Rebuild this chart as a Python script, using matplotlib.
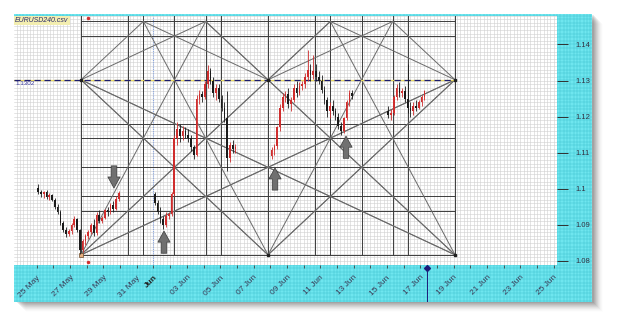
import matplotlib as mpl
mpl.use('Agg')
import matplotlib.pyplot as plt
import matplotlib.patches as mpatches
import numpy as np

mpl.rcParams['font.family'] = ['Liberation Sans', 'DejaVu Sans']
mpl.rcParams['font.size'] = 5.5

# ---------------------------------------------------------------------------- #
# data : EURUSD 4h bars, time in days after 1 Jun 2015

trade_days = [-7, -6, -5, -4, -3, 0, 1, 2, 3, 4, 7, 8, 9, 10, 11, 14, 15, 16]
bars_per_day = [6, 6, 6, 6, 6, 6, 6, 6, 6, 6, 6, 6, 6, 6, 6, 6, 6, 2]

bar_open = [1.1003, 1.0990, 1.0985, 1.0992, 1.0978, 1.0982,
            1.0970, 1.0950, 1.0935, 1.0905, 1.0885, 1.0875,
            1.0882, 1.0900, 1.0915, 1.0885, 1.0830, 1.0855,
            1.0868, 1.0880, 1.0900, 1.0878, 1.0928, 1.0912,
            1.0920, 1.0940, 1.0935, 1.0955, 1.0945, 1.0972,
            1.0985, 1.0960, 1.0935, 1.0915, 1.0900, 1.0925,
            1.0930, 1.0985, 1.1140, 1.1165, 1.1145, 1.1160,
            1.1150, 1.1140, 1.1115, 1.1095, 1.1250, 1.1262,
            1.1255, 1.1290, 1.1325, 1.1300, 1.1265, 1.1280,
            1.1250, 1.1225, 1.1195, 1.1085, 1.1120, 1.1110,
            1.1090, 1.1108, 1.1118, 1.1170, 1.1225, 1.1255,
            1.1262, 1.1235, 1.1245, 1.1280, 1.1265, 1.1285,
            1.1290, 1.1310, 1.1330, 1.1315, 1.1325, 1.1310,
            1.1300, 1.1275, 1.1245, 1.1215, 1.1230, 1.1215,
            1.1200, 1.1175, 1.1160, 1.1195, 1.1240, 1.1265,
            1.1215, 1.1205, 1.1210, 1.1255, 1.1280, 1.1265,
            1.1270, 1.1250, 1.1225, 1.1215, 1.1230, 1.1225,
            1.1240, 1.1255]
bar_high = [1.1012, 1.0998, 1.0995, 1.0996, 1.0988, 1.0986,
            1.0975, 1.0958, 1.0940, 1.0912, 1.0895, 1.0890,
            1.0905, 1.0925, 1.0920, 1.0890, 1.0860, 1.0875,
            1.0885, 1.0905, 1.0915, 1.0935, 1.0940, 1.0925,
            1.0945, 1.0950, 1.0960, 1.0965, 1.0980, 1.0995,
            1.0990, 1.0968, 1.0950, 1.0925, 1.0935, 1.0935,
            1.0990, 1.1150, 1.1185, 1.1180, 1.1175, 1.1170,
            1.1165, 1.1150, 1.1120, 1.1260, 1.1275, 1.1270,
            1.1300, 1.1343, 1.1335, 1.1310, 1.1290, 1.1290,
            1.1260, 1.1240, 1.1270, 1.1130, 1.1135, 1.1125,
            1.1115, 1.1125, 1.1175, 1.1235, 1.1265, 1.1270,
            1.1280, 1.1255, 1.1290, 1.1300, 1.1295, 1.1300,
            1.1320, 1.1385, 1.1345, 1.1370, 1.1345, 1.1325,
            1.1315, 1.1285, 1.1255, 1.1240, 1.1245, 1.1225,
            1.1210, 1.1185, 1.1200, 1.1245, 1.1275, 1.1275,
            1.1230, 1.1220, 1.1260, 1.1290, 1.1295, 1.1280,
            1.1285, 1.1345, 1.1240, 1.1240, 1.1245, 1.1245,
            1.1260, 1.1275]
bar_low = [1.0985, 1.0978, 1.0975, 1.0972, 1.0970, 1.0965,
           1.0945, 1.0930, 1.0900, 1.0880, 1.0866, 1.0868,
           1.0875, 1.0895, 1.0880, 1.0818, 1.0825, 1.0845,
           1.0860, 1.0875, 1.0870, 1.0872, 1.0905, 1.0905,
           1.0915, 1.0925, 1.0930, 1.0935, 1.0940, 1.0965,
           1.0955, 1.0930, 1.0905, 1.0888, 1.0895, 1.0915,
           1.0925, 1.0980, 1.1120, 1.1130, 1.1135, 1.1140,
           1.1130, 1.1105, 1.1082, 1.1090, 1.1235, 1.1240,
           1.1250, 1.1280, 1.1290, 1.1255, 1.1245, 1.1240,
           1.1215, 1.1185, 1.1050, 1.1075, 1.1100, 1.1100,
           1.1082, 1.1095, 1.1110, 1.1160, 1.1215, 1.1240,
           1.1225, 1.1215, 1.1240, 1.1255, 1.1260, 1.1275,
           1.1280, 1.1300, 1.1300, 1.1305, 1.1300, 1.1290,
           1.1265, 1.1235, 1.1200, 1.1195, 1.1205, 1.1190,
           1.1165, 1.1148, 1.1155, 1.1190, 1.1230, 1.1250,
           1.1195, 1.1190, 1.1205, 1.1245, 1.1255, 1.1255,
           1.1240, 1.1210, 1.1200, 1.1205, 1.1215, 1.1220,
           1.1230, 1.1245]
bar_close = [1.0990, 1.0985, 1.0992, 1.0978, 1.0982, 1.0970,
             1.0950, 1.0935, 1.0905, 1.0885, 1.0875, 1.0882,
             1.0900, 1.0915, 1.0885, 1.0830, 1.0855, 1.0868,
             1.0880, 1.0900, 1.0878, 1.0928, 1.0912, 1.0920,
             1.0940, 1.0935, 1.0955, 1.0945, 1.0972, 1.0988,
             1.0960, 1.0935, 1.0915, 1.0900, 1.0925, 1.0930,
             1.0985, 1.1140, 1.1165, 1.1145, 1.1160, 1.1150,
             1.1140, 1.1115, 1.1095, 1.1250, 1.1262, 1.1255,
             1.1290, 1.1325, 1.1300, 1.1265, 1.1280, 1.1250,
             1.1225, 1.1195, 1.1085, 1.1120, 1.1110, 1.1115,
             1.1108, 1.1118, 1.1170, 1.1225, 1.1255, 1.1262,
             1.1235, 1.1245, 1.1280, 1.1265, 1.1285, 1.1290,
             1.1310, 1.1330, 1.1315, 1.1325, 1.1310, 1.1300,
             1.1275, 1.1245, 1.1215, 1.1230, 1.1215, 1.1200,
             1.1175, 1.1160, 1.1195, 1.1240, 1.1265, 1.1258,
             1.1205, 1.1210, 1.1255, 1.1280, 1.1265, 1.1270,
             1.1250, 1.1225, 1.1215, 1.1230, 1.1225, 1.1240,
             1.1255, 1.1270]

# date axis
tick_days = list(range(-7, 25))
label_days = [-7, -5, -3, -1, 0, 2, 4, 6, 8, 10, 12, 14, 16, 18, 20, 22, 24]
label_text = ['25 May', '27 May', '29 May', '31 May', 'Jun', '03 Jun', '05 Jun',
              '07 Jun', '09 Jun', '11 Jun', '13 Jun', '15 Jun', '17 Jun',
              '19 Jun', '21 Jun', '23 Jun', '25 Jun']
price_ticks = [1.08, 1.09, 1.10, 1.11, 1.12, 1.13, 1.14]
price_labels = ['1.08', '1.09', '1.1', '1.11', '1.12', '1.13', '1.14']

# gann square (two squares side by side, extended to 4/3 in price)
gann_t0, gann_t1 = -4.35, 18.09
gann_p0, gann_p1 = 1.0817, 1.1302
gann_h = [0, 1/4, 1/3, 1/2, 2/3, 3/4, 5/4, 4/3]
gann_v = [0, 1/4, 1/3, 1/2, 2/3, 3/4, 1, 5/4, 4/3, 3/2, 5/3, 7/4, 2]
# rays: start corner (u, v), direction in u, signed slope in v per u
gann_rays = [(0, 0, 1, 2), (0, 0, 1, 1), (0, 0, 1, 0.5),
             (1, 0, -1, 2), (1, 0, -1, 1),
             (1, 0, 1, 2), (1, 0, 1, 1),
             (2, 0, -1, 2), (2, 0, -1, 1), (2, 0, -1, 0.5),
             (0, 1, 1, -1), (0, 1, 1, -0.5),
             (1, 1, -1, -1), (1, 1, 1, -1),
             (2, 1, -1, -1), (2, 1, -1, -0.5),
             (0, 1, 1, 1), (0, 1, 1, 0.5),
             (1, 1, -1, 1), (1, 1, -1, 0.5), (1, 1, 1, 1), (1, 1, 1, 0.5),
             (2, 1, -1, 1), (2, 1, -1, 0.5)]

level_price = 1.1302
now_day = 16.4

arrow_day = [-2.37, 0.63, 7.29, 11.55]
arrow_price = [1.1002, 1.0883, 1.1058, 1.1146]
arrow_dir = [-1, 1, 1, 1]

# ---------------------------------------------------------------------------- #

W, H = 625, 330
day_lo, day_hi, day_band = -8.368, 24.206, 26.306
p_top, p_bot, p_band = 1.14787, 1.07889, 1.06864

cyan = '#6fe6ef'
cyan_grid = '#3fc3cf'

fig = plt.figure(figsize=(W / 100, H / 100), dpi=100)
fig.patch.set_facecolor('white')

# drop shadow of the frame
for k in range(10):
    a = 0.16 * (10 - k) / 10
    fig.patches.append(mpatches.Rectangle(((17 + k) / W, 1 - (303 + k) / H), 577 / W, 288 / H,
                                          transform=fig.transFigure, fc='#303030', ec='none',
                                          alpha=a * 0.6, zorder=-10))

# background axes: cyan bands with their grid
bg = fig.add_axes([14 / W, 1 - 302 / H, 578 / W, 288 / H])
bg.set_xlim(day_lo, day_band)
bg.set_ylim(p_band, 1.14842)
bg.set_facecolor(cyan)
for d in np.arange(-8.4, 26.4, 0.2):
    bg.axvline(d, color=cyan_grid, lw=0.35, zorder=1)
for p in np.arange(1.068, 1.149, 0.001):
    bg.axhline(p, color=cyan_grid, lw=0.35, zorder=1)
for s in bg.spines.values():
    s.set_visible(False)
bg.set_xticks([])
bg.set_yticks([])
bg.vlines(now_day, p_band, p_bot, color='#1c1c7a', lw=0.7, zorder=3)
bg.plot([now_day], [1.0781], marker='D', ms=3, color='#1c1c7a', zorder=4)

# main chart axes
ax = fig.add_axes([14 / W, 1 - 265 / H, 543 / W, 249 / H])
ax.set_xlim(day_lo, day_hi)
ax.set_ylim(p_bot, p_top)
ax.set_facecolor('white')
for s in ax.spines.values():
    s.set_visible(False)

# fine grid
for d in np.arange(-8.4, 24.4, 0.2):
    ax.axvline(d, color='#cfcfcf', lw=0.4, zorder=0)
for p in np.arange(1.078, 1.149, 0.001):
    ax.axhline(p, color='#cfcfcf', lw=0.4, zorder=0)

# month separator
ax.axvline(0, color='#8aa6e0', lw=0.8, ls=(0, (1, 1)), zorder=1)

# gann square
def u2t(u):
    return gann_t0 + u * (gann_t1 - gann_t0) / 2

def v2p(v):
    return gann_p0 + v * (gann_p1 - gann_p0)

for v in gann_h:
    ax.plot([u2t(0), u2t(2)], [v2p(v), v2p(v)], color='#3c3c3c', lw=0.7, zorder=2)
for u in gann_v:
    ax.plot([u2t(u), u2t(u)], [v2p(0), p_top], color='#3c3c3c', lw=0.7, zorder=2)

v_max = 4 / 3
for u0, v0, du, m in gann_rays:
    # walk until the ray leaves the box 0<=u<=2, 0<=v<=4/3
    steps = [(2 - u0) if du > 0 else u0]
    steps.append((v_max - v0) / m if m > 0 else (0 - v0) / m)
    s = min(steps)
    u1, v1 = u0 + du * s, v0 + m * s
    ax.plot([u2t(u0), u2t(u1)], [v2p(v0), v2p(v1)], color='#6a6a6a', lw=0.7, zorder=2)

# level line
ax.plot([day_lo, u2t(2)], [level_price, level_price], color='#e8d860', lw=0.9, zorder=3)
ax.plot([day_lo, u2t(2)], [level_price, level_price], color='#1c1c6e', lw=0.9,
        ls=(0, (5, 3)), zorder=3)
ax.text(day_lo + 0.1, level_price - 0.0003, '%.4f' % level_price, color='#3a3aa0',
        fontsize=4.5, va='top', ha='left', zorder=5)

# corner dots
ax.plot([u2t(0), u2t(1), u2t(2), u2t(0), u2t(1), u2t(2)],
        [v2p(0), v2p(0), v2p(0), v2p(1), v2p(1), v2p(1)],
        ls='none', marker='s', ms=1.5, color='#202020', zorder=4)
ax.plot([u2t(0)], [v2p(0)], ls='none', marker='s', ms=3, mfc='#e8b080', mec='#705030',
        mew=0.5, zorder=5)
ax.plot([-3.93, -3.93], [1.1473, 1.0797], ls='none', marker='o', ms=1.5, color='#d03030',
        zorder=5)

# candles
bar_time = []
for day, n in zip(trade_days, bars_per_day):
    for k in range(n):
        bar_time.append(day + (k + 0.5) / 6)
bar_time = np.array(bar_time)
o = np.array(bar_open)
h = np.array(bar_high)
l = np.array(bar_low)
c = np.array(bar_close)
colors = np.where(c >= o, '#cf2d2d', '#1a1a1a')
ax.vlines(bar_time, l, h, colors=colors, lw=0.6, zorder=6)
ax.bar(bar_time, np.maximum(np.abs(c - o), 0.00015), bottom=np.minimum(o, c), width=0.1,
       color=colors, zorder=6)

# arrows
for d, p, sgn in zip(arrow_day, arrow_price, arrow_dir):
    ax.annotate('', xy=(d, p), xytext=(0, -16 * sgn), textcoords='offset points',
                arrowprops=dict(arrowstyle='simple,head_length=1.0,head_width=1.1,tail_width=0.5',
                                mutation_scale=8, fc='#707070', ec='#3a3a3a', lw=0.5,
                                shrinkA=0, shrinkB=0), zorder=7)

# file name label
ax.text(0.002, 0.995, 'EURUSD240.csv', transform=ax.transAxes, ha='left', va='top',
        fontsize=5, style='italic', color='#2a2a6a', zorder=8,
        bbox=dict(boxstyle='square,pad=0.15', fc='#f3eeb0', ec='none'))

# axes ticks
ax.set_xticks(tick_days)
ax.set_xticklabels([label_text[label_days.index(d)] if d in label_days else '' for d in tick_days],
                   rotation=45, ha='right', rotation_mode='anchor', color='#3a3a55', fontsize=6)
ax.tick_params(axis='x', direction='out', length=2.5, width=0.6, color='#404040', pad=4)
for t in ax.get_xticklabels():
    if t.get_text() == 'Jun':
        t.set_fontweight('bold')
        t.set_color('#202020')
ax.yaxis.tick_right()
ax.set_yticks(price_ticks)
ax.set_yticklabels(price_labels, color='#303040', fontsize=5.5)
ax.tick_params(axis='y', direction='out', length=8, width=0.7, color='#303030', pad=5)

fig.savefig('out.png', dpi=100, facecolor='white')
